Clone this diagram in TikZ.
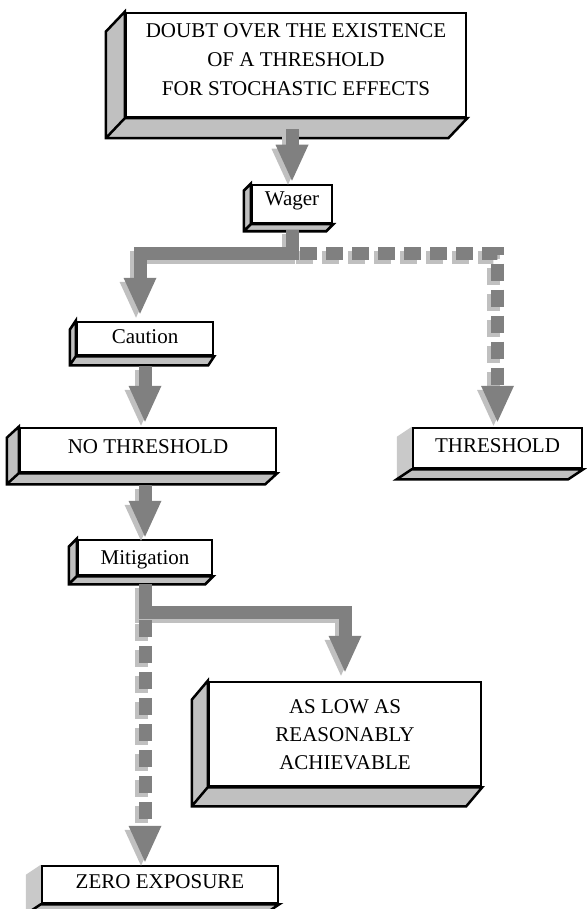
\documentclass[tikz,border=0pt]{standalone}
\usepackage{fontspec}
\setmainfont{Liberation Serif}
\usepackage{tikz}
\usetikzlibrary{arrows.meta, calc, backgrounds}
\definecolor{fgray}{RGB}{128,128,128}
\definecolor{sgray}{RGB}{192,192,192}
\definecolor{bgray}{RGB}{192,192,192}

\begin{document}
\begin{tikzpicture}[x=1pt, y=-1pt,
    every node/.style={font=\fontsize{21}{29}\selectfont},
    box/.style={draw, line width=2.5pt, fill=white, inner sep=0pt, align=center},
    bevel/.style={draw, line width=2.5pt, fill=bgray, line join=miter},
    flow/.style={line width=13pt, -{Triangle[length=36pt, width=33pt, line width=0pt]}},
    dashes/.style={dash pattern=on 17pt off 9pt}]
  \useasboundingbox (0,0) rectangle (586,909);

  % boxes (front faces)
  \node[box, minimum width=340pt, text height=83pt, text depth=21pt] (doubt) at (296,65)
    {DOUBT OVER THE EXISTENCE\\OF A THRESHOLD\\FOR STOCHASTIC EFFECTS};
  \node[box, minimum width=80pt, text height=21pt, text depth=17pt] (wager) at (292,204) {Wager};
  \node[box, minimum width=136pt, text height=21pt, text depth=12pt] (caution) at (145,338.5) {Caution};
  \node[box, minimum width=256pt, text height=25pt, text depth=19pt] (nothresh) at (148,450) {NO THRESHOLD};
  \node[box, minimum width=169pt, text height=24pt, text depth=16pt] (thresh) at (497.5,448) {THRESHOLD};
  \node[box, minimum width=134pt, text height=24pt, text depth=11pt] (mitig) at (145,557.5) {Mitigation};
  \node[box, minimum width=272pt, text height=87pt, text depth=17pt, font=\fontsize{21}{28}\selectfont] (alara) at (345,734)
    {AS LOW AS\\REASONABLY\\ACHIEVABLE};
  \node[box, minimum width=236pt, text height=22pt, text depth=15pt] (zero) at (160,884.5) {ZERO EXPOSURE};

  % 3d sides
  \begin{scope}[on background layer]
    \foreach \n/\dx/\dy in {doubt/19/20, wager/7/7, caution/6/9, nothresh/12/11, mitig/8/8, alara/16/19} {
      \draw[bevel] (\n.north west) -- ++(-\dx,\dy) -- ([shift={(-\dx,\dy)}]\n.south west)
        -- ([shift={(-\dx,\dy)}]\n.south east) -- (\n.south east) -- (\n.south west) -- cycle
        (\n.south west) -- ++(-\dx,\dy);
    }
    \foreach \n in {thresh, zero} {
      \fill[sgray!85] (\n.north west) -- ++(-15,10) -- ([shift={(-15,10)}]\n.south west) -- (\n.south west) -- cycle;
      \draw[bevel] (\n.south west) -- ++(-15,10) -- ([shift={(-15,10)}]\n.south east) -- (\n.south east) -- cycle;
    }
  \end{scope}

  \coordinate (split1) at (wager.south |- 0,253);
  \coordinate (split2) at (mitig.south |- 0,612);

  % connectors, shadow first
  \foreach \col/\sh in {sgray/-4pt, fgray/0pt} {
    \begin{scope}[transform canvas={shift={(\sh,\sh)}}, flow/.append style={draw=\col}]
      \draw[flow, shorten <=11pt, shorten >=3pt] (wager.north |- doubt.south) -- (wager.north);
      \draw[flow, shorten <=6pt, shorten >=7pt] (wager.south) -- (split1) -| ([xshift=-5pt]caution.north);
      \draw[flow, dashes, shorten <=8pt, shorten >=5pt] (split1) -| (thresh.north);
      \draw[flow, shorten <=10pt, shorten >=5pt] (caution.south) -- (caution.south |- nothresh.north);
      \draw[flow, shorten <=12pt, shorten >=2pt] (mitig.north |- nothresh.south) -- (mitig.north);
      \draw[flow, shorten <=8pt, shorten >=9pt] (mitig.south) -- (split2) -| (alara.north);
      \draw[flow, dashes, shorten <=8pt, shorten >=3pt] (split2) -- (split2 |- zero.north);
    \end{scope}
  }
\end{tikzpicture}
\end{document}
